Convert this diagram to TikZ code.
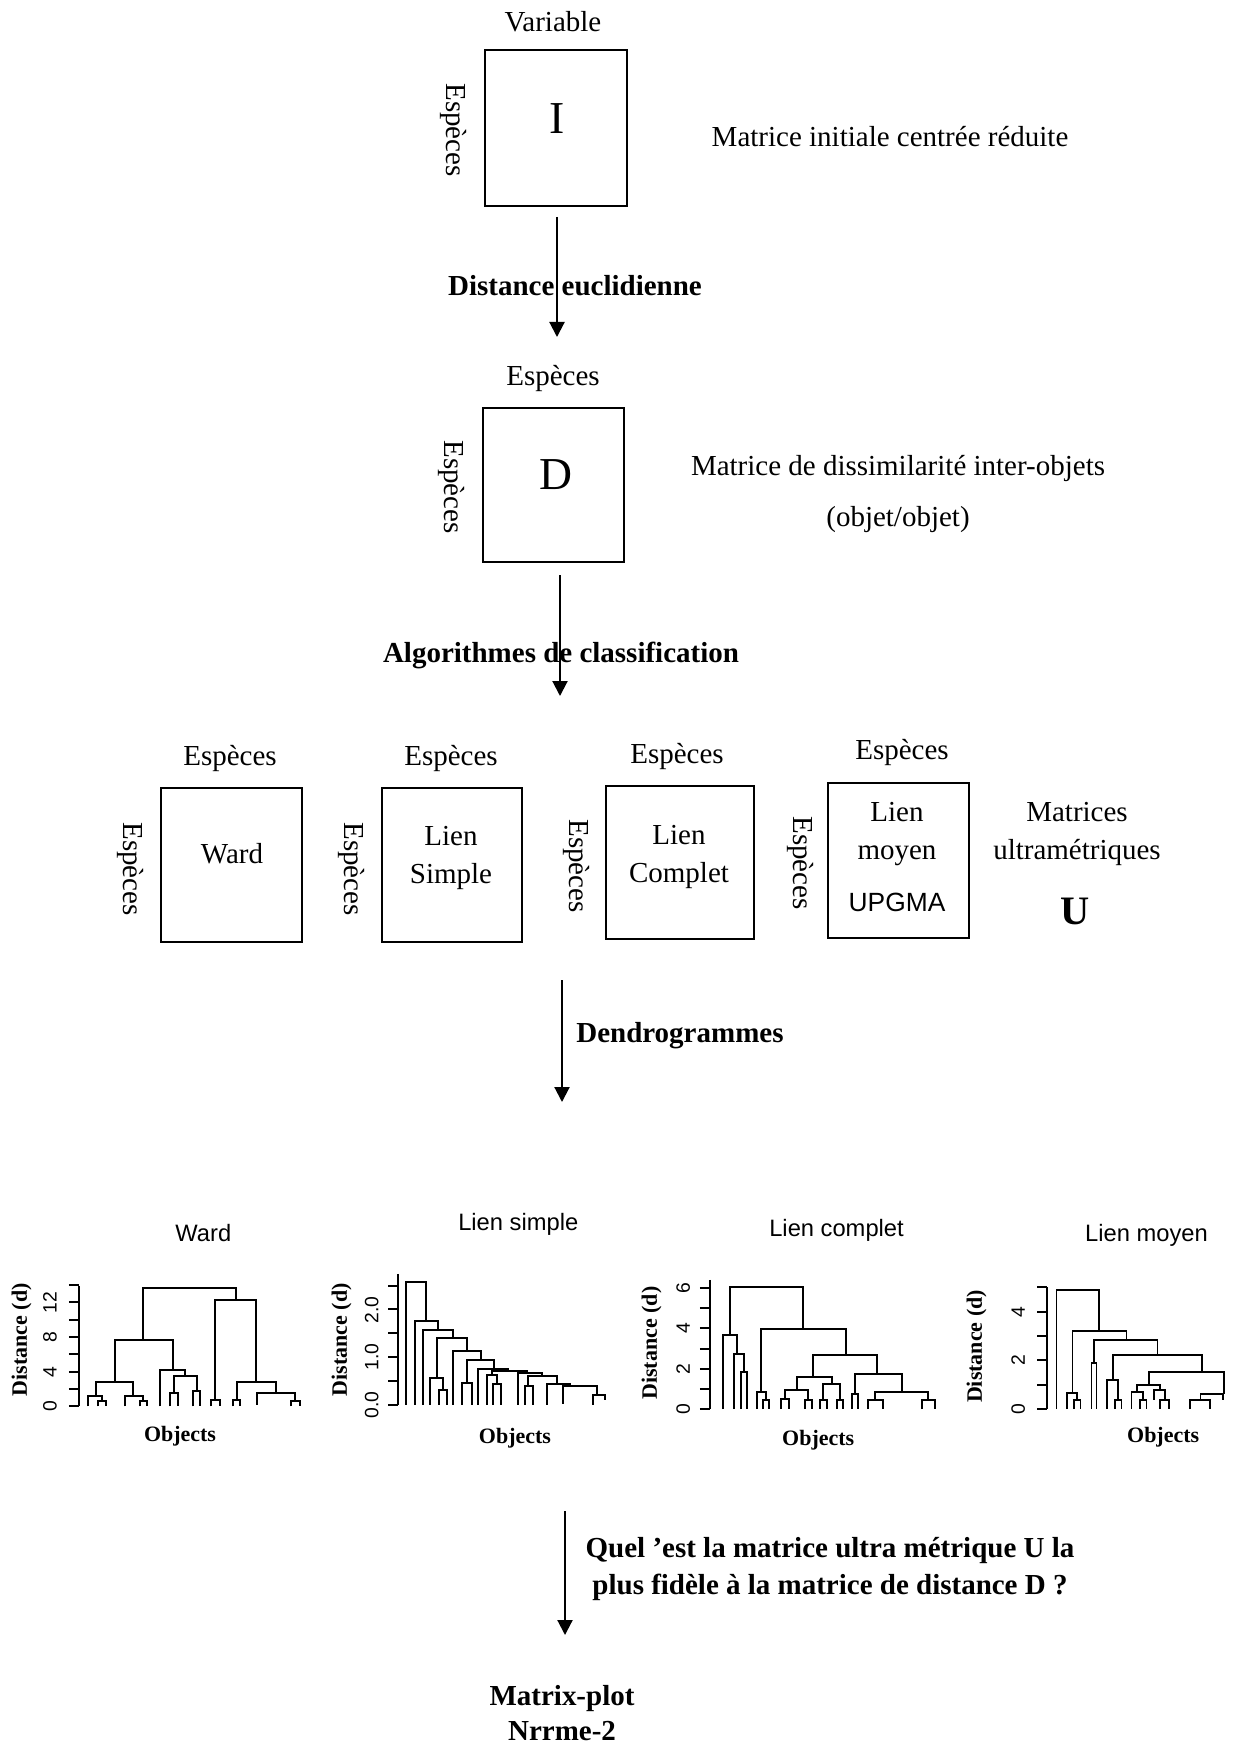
\documentclass[tikz,border=0pt]{standalone}
\usepackage{fontspec}
\setmainfont{Liberation Serif}
\setsansfont{Liberation Sans}
\usetikzlibrary{arrows.meta}
\newcommand\fusion[5]{\draw[dendro] (#1,#4) -- (#1,#3) -- (#2,#3) -- (#2,#5);}

\tikzset{
  txt/.style={font=\fontsize{16.5}{21.5}\selectfont, align=center, inner sep=0pt},
  gras/.style={font=\fontsize{16.5}{21.5}\selectfont\bfseries, align=center, inner sep=0pt},
  lettre/.style={font=\fontsize{26}{30}\selectfont, inner sep=0pt},
  boite/.style={draw, line width=1.1pt, inner sep=0pt},
  fleche/.style={line width=1.2pt, -{Triangle[length=3mm,width=3mm]}},
  dendro/.style={line width=1.1pt},
  titre/.style={font=\sffamily\fontsize{13.5}{16}\selectfont, inner sep=0pt},
  graduation/.style={font=\sffamily\fontsize{11}{13}\selectfont, rotate=90, inner sep=0pt},
  axey/.style={font=\fontsize{12.5}{15}\selectfont\bfseries, rotate=90, inner sep=0pt},
  axex/.style={font=\fontsize{12.5}{15}\selectfont\bfseries, inner sep=0pt}
}

\begin{document}
\begin{tikzpicture}[x=0.02cm, y=-0.02cm]

\useasboundingbox (0,0) rectangle (1236,1746);

% matrice initiale
\node[txt] (variable) at (553,22) {Variable};
\node[boite, minimum width=2.84cm, minimum height=3.12cm] (I) at (556,128) {};
\node[lettre] (lI) at (557,119) {I};
\node[txt, rotate=-90] (espI) at (453,130) {Espèces};
\node[txt] (descI) at (890,137) {Matrice initiale centrée réduite};

\coordinate (a1) at (557,217);
\coordinate (b1) at (557,337);
\draw[fleche] (a1) -- (b1);
\node[gras] (eucl) at (575,286) {Distance euclidienne};

% matrice de distance
\node[txt] (espD) at (553,379) {Espèces};
\node[boite, minimum width=2.82cm, minimum height=3.08cm] (D) at (553.5,485) {};
\node[lettre] (lD) at (556,475) {D};
\node[txt, rotate=-90] (espD2) at (451,487) {Espèces};
\node[txt] (descD) at (898,494) {Matrice de dissimilarité inter-objets\\[8pt](objet/objet)};

\coordinate (a2) at (560,575);
\coordinate (b2) at (560,696);
\draw[fleche] (a2) -- (b2);
\node[gras] (algo) at (561,655) {Algorithmes de classification};

% matrices ultrametriques
\node[txt] (espW) at (230,759) {Espèces};
\node[boite, minimum width=2.82cm, minimum height=3.08cm] (W) at (231.5,865) {};
\node[txt, rotate=-90] (espW2) at (130,869) {Espèces};
\node[txt] (lW) at (232,854) {Ward};

\node[txt] (espS) at (451,759) {Espèces};
\node[boite, minimum width=2.80cm, minimum height=3.08cm] (S) at (452,865) {};
\node[txt, rotate=-90] (espS2) at (351,869) {Espèces};
\node[txt] (lS) at (451,858) {Lien\\Simple};

\node[txt] (espC) at (677,757) {Espèces};
\node[boite, minimum width=2.96cm, minimum height=3.06cm] (C) at (680,862.5) {};
\node[txt, rotate=-90] (espC2) at (576,866) {Espèces};
\node[txt] (lC) at (679,857) {Lien\\Complet};

\node[txt] (espM) at (902,753) {Espèces};
\node[boite, minimum width=2.82cm, minimum height=3.10cm] (M) at (898.5,860.5) {};
\node[txt, rotate=-90] (espM2) at (800,863) {Espèces};
\node[txt] (lM) at (897,834) {Lien\\moyen};
\node[font=\sffamily\fontsize{15}{18}\selectfont, inner sep=0pt] (upgma) at (897,902) {UPGMA};

\node[txt] (ultra) at (1077,834) {Matrices\\ultramétriques};
\node[font=\fontsize{23}{26}\selectfont\bfseries, inner sep=0pt] (U) at (1075,911) {U};

\coordinate (a3) at (562,980);
\coordinate (b3) at (562,1102);
\draw[fleche] (a3) -- (b3);
\node[gras, anchor=west] (dendrog) at (576,1036) {Dendrogrammes};

% dendrogrammes
\begin{scope}[yshift=-24cm, x=0.006667cm, y=-0.006667cm]
\node[titre] (tW) at (610,100) {Ward};
\draw[dendro] (237,258) -- (237,620);
\foreach \k in {0,...,7} \draw[dendro] (207,{620-52*\k}) -- (237,{620-52*\k});
\foreach \v/\yy in {0/620,4/516,8/412,12/308} \node[graduation] at (150,\yy) {\v};
\node[axey] (dW) at (65,420) {Distance (d)};
\node[axex] (oW) at (540,710) {Objects};
\fusion{430}{707}{265}{422}{300}
\fusion{345}{520}{422}{548}{512}
\fusion{287}{400}{548}{590}{590}
\fusion{265}{306}{590}{620}{605}
\fusion{295}{318}{605}{620}{620}
\fusion{375}{430}{590}{620}{605}
\fusion{420}{442}{605}{620}{620}
\fusion{480}{555}{512}{620}{528}
\fusion{522}{590}{528}{580}{573}
\fusion{510}{535}{580}{620}{620}
\fusion{580}{600}{573}{620}{620}
\fusion{645}{768}{300}{600}{548}
\fusion{632}{660}{600}{620}{620}
\fusion{710}{827}{548}{600}{580}
\fusion{700}{720}{600}{620}{620}
\fusion{770}{885}{580}{615}{605}
\fusion{873}{900}{605}{620}{620}
\end{scope}

\begin{scope}[xshift=6.2cm, yshift=-24cm, x=0.006667cm, y=-0.006667cm]
\node[titre] (tS) at (625,75) {Lien simple};
\draw[dendro] (265,222) -- (265,615);
\foreach \k in {0,...,5} \draw[dendro] (235,{615-71.5*\k}) -- (265,{615-71.5*\k});
\foreach \v/\yy in {0.0/615,1.0/472,2.0/330} \node[graduation] at (185,\yy) {\v};
\node[axey] (dS) at (95,420) {Distance (d)};
\node[axex] (oS) at (615,715) {Objects};
\fusion{288}{348}{248}{615}{365}
\fusion{315}{383}{365}{615}{390}
\fusion{340}{428}{390}{615}{415}
\fusion{380}{472}{415}{535}{455}
\fusion{360}{400}{535}{615}{570}
\fusion{388}{410}{570}{615}{615}
\fusion{430}{512}{455}{615}{482}
\fusion{470}{553}{482}{550}{508}
\fusion{455}{485}{550}{615}{615}
\fusion{505}{595}{508}{615}{515}
\fusion{545}{650}{515}{525}{520}
\fusion{530}{561}{525}{615}{552}
\fusion{550}{572}{552}{615}{615}
\fusion{625}{697}{520}{615}{530}
\fusion{655}{740}{530}{560}{552}
\fusion{645}{668}{560}{615}{615}
\fusion{712}{780}{552}{615}{558}
\fusion{760}{860}{558}{612}{585}
\fusion{850}{885}{585}{615}{600}
\end{scope}

\begin{scope}[xshift=12.4cm, yshift=-24cm, x=0.006667cm, y=-0.006667cm]
\node[titre] (tC) at (650,92) {Lien complet};
\draw[dendro] (270,240) -- (270,628);
\foreach \k in {0,...,6} \draw[dendro] (240,{628-60.5*\k}) -- (270,{628-60.5*\k});
\foreach \v/\yy in {0/628,2/507,4/386,6/265} \node[graduation] at (190,\yy) {\v};
\node[axey] (dC) at (95,430) {Distance (d)};
\node[axex] (oC) at (595,720) {Objects};
\fusion{330}{548}{262}{405}{387}
\fusion{308}{352}{405}{628}{462}
\fusion{343}{372}{462}{628}{518}
\fusion{362}{382}{518}{628}{628}
\fusion{423}{678}{387}{578}{467}
\fusion{410}{438}{578}{628}{600}
\fusion{428}{448}{600}{628}{628}
\fusion{580}{770}{467}{532}{522}
\fusion{530}{635}{532}{570}{552}
\fusion{495}{565}{570}{598}{600}
\fusion{482}{508}{598}{628}{628}
\fusion{555}{575}{600}{628}{628}
\fusion{610}{660}{552}{600}{600}
\fusion{600}{620}{600}{628}{628}
\fusion{650}{670}{600}{628}{628}
\fusion{705}{845}{522}{582}{578}
\fusion{695}{715}{582}{628}{628}
\fusion{765}{925}{578}{600}{600}
\fusion{745}{790}{600}{628}{628}
\fusion{905}{945}{600}{628}{628}
\end{scope}

\begin{scope}[xshift=18.6cm, yshift=-24cm, x=0.006667cm, y=-0.006667cm]
\node[titre] (tM) at (650,108) {Lien moyen};
\draw[dendro] (352,262) -- (352,628);
\foreach \k in {0,...,5} \draw[dendro] (322,{628-73*\k}) -- (352,{628-73*\k});
\foreach \v/\yy in {0/628,2/482,4/336} \node[graduation] at (265,\yy) {\v};
\node[axey] (dM) at (140,440) {Distance (d)};
\node[axex] (oM) at (700,712) {Objects};
\fusion{380}{508}{270}{628}{393}
\fusion{428}{590}{393}{580}{420}
\fusion{412}{442}{580}{628}{600}
\fusion{432}{452}{600}{628}{628}
\fusion{492}{683}{420}{490}{465}
\fusion{485}{500}{490}{628}{628}
\fusion{550}{817}{465}{540}{518}
\fusion{532}{565}{540}{628}{600}
\fusion{555}{575}{600}{628}{628}
\fusion{657}{882}{518}{555}{582}
\fusion{622}{690}{555}{578}{572}
\fusion{605}{640}{578}{628}{600}
\fusion{630}{650}{600}{628}{628}
\fusion{672}{705}{572}{600}{600}
\fusion{690}{718}{600}{628}{628}
\fusion{812}{880}{582}{600}{600}
\fusion{780}{840}{600}{628}{628}
\end{scope}

% question finale
\coordinate (a4) at (565,1511);
\coordinate (b4) at (565,1635);
\draw[fleche] (a4) -- (b4);
\node[gras] (quest) at (830,1569) {Quel 'est la matrice ultra métrique U la\\plus fidèle à la matrice de distance D ?};
\node[gras, font=\fontsize{16.5}{20}\selectfont\bfseries] (plot) at (562,1713) {Matrix-plot\\Nrrme-2};

\end{tikzpicture}
\end{document}
